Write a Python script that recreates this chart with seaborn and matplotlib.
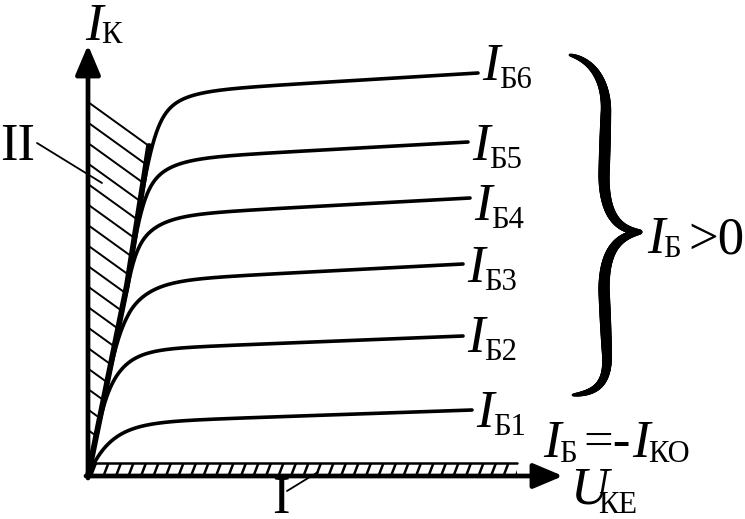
import numpy as np
import pandas as pd
import matplotlib
matplotlib.use("Agg")
import matplotlib.pyplot as plt
import seaborn as sns
from matplotlib.patches import Polygon, Rectangle
from matplotlib.collections import LineCollection

# ---------------- data ----------------
curve_names = ["Б1", "Б2", "Б3", "Б4", "Б5", "Б6"]
u_flat = 125                                  # U where the flat part is read
i_flat = [57, 130, 199, 264, 320, 387]        # I_K at U = u_flat
i_end = [66, 140, 212, 278, 334, 403]         # I_K at the right end
u_end = [384, 375, 375, 382, 380, 390]        # right end of each curve
knee_tau = [22, 18, 22, 22, 23, 24]           # knee width of each curve
label_dy = [-17, -16, -18, -22, -18, -7]      # label baseline relative to line end

sat_u = [0, 39, 61]                           # saturation boundary line
sat_i = [0, 191, 330]
hatch_top_i = 374                             # top of region II on the I axis
strip_u_end = 429                             # region I (cut-off) strip
strip_h = 13
x_arrow_tip = 475
y_arrow_tip = 431

# ---------------- style ----------------
sns.set_theme(style="white")
plt.rcParams["font.family"] = ["Liberation Serif", "DejaVu Serif"]
BIG = 38
SUB = 22

fig = plt.figure(figsize=(7.45, 5.19), dpi=100)
ax = fig.add_axes([0, 0, 1, 1])
ax.set_xlim(-88, 657)
ax.set_ylim(-43, 476)
ax.axis("off")


def envelope(u):
    u = np.asarray(u, float)
    k = (sat_i[-1] - sat_i[-2]) / (sat_u[-1] - sat_u[-2])
    return np.where(u <= sat_u[-1], np.interp(u, sat_u, sat_i),
                    sat_i[-1] + k * (u - sat_u[-1]))


rows = []
for name, f, e, ue, t in zip(curve_names, i_flat, i_end, u_end, knee_tau):
    u = np.linspace(0, ue, 600)
    b = f + (e - f) * (u - u_flat) / (ue - u_flat)
    expo = b * (1 - np.exp(-u / t))
    env = envelope(u)
    n = 10
    with np.errstate(divide="ignore", over="ignore", invalid="ignore"):
        c = (expo ** -n + env ** -n) ** (-1.0 / n)
    c = np.where(u > 0, c, 0.0)
    rows.append(pd.DataFrame({"U": u, "I": c, "curve": name}))
df = pd.concat(rows, ignore_index=True)

sns.lineplot(data=df, x="U", y="I", units="curve", estimator=None, sort=False,
             color="black", lw=2.6, legend=False, ax=ax)
sat_df = pd.DataFrame({"U": sat_u, "I": sat_i})
sns.lineplot(data=sat_df, x="U", y="I", estimator=None, sort=False,
             color="black", lw=4.2, ax=ax, solid_capstyle="round")

# ---- region II hatching ----
poly = Polygon([(0, 0)] + list(zip(sat_u, sat_i)) + [(sat_u[-1], sat_i[-1] + 3),
               (0, hatch_top_i + 2)],
               closed=True, facecolor="none", edgecolor="none")
ax.add_patch(poly)
slope = (sat_i[-1] - hatch_top_i) / sat_u[-1]
for i0 in np.arange(hatch_top_i, -30, -20.5):
    uu = np.array([-2, 80])
    ln, = ax.plot(uu, i0 + slope * uu, color="black", lw=1.4)
    ln.set_clip_path(poly)

# ---- region I strip ----
rect = Rectangle((0, 0), strip_u_end, strip_h, facecolor="none", edgecolor="none")
ax.add_patch(rect)
ax.plot([0, strip_u_end], [strip_h, strip_h], color="black", lw=1.8)
for u0 in np.arange(3, strip_u_end, 12.5):
    ln, = ax.plot([u0, u0 + 5], [0, strip_h], color="black", lw=1.8)
    ln.set_clip_path(rect)

# ---- axes with arrows ----
arrow = dict(arrowstyle="-|>,head_length=0.9,head_width=0.38", lw=3.4,
             color="black", shrinkA=0, shrinkB=0, mutation_scale=20)
ax.annotate("", xy=(x_arrow_tip, 0), xytext=(-2, 0), arrowprops=arrow)
ax.annotate("", xy=(0, y_arrow_tip), xytext=(0, -2), arrowprops=arrow)


def txt(u, i, s, size, italic=False):
    ax.text(u, i, s, fontsize=size, style="italic" if italic else "normal",
            ha="left", va="baseline", color="black")


# axis labels
txt(-3, 436, "I", BIG, True)
txt(13, 433, "К", SUB)
txt(482, -27, "U", BIG, True)
txt(510, -37, "КЕ", SUB)

# curve labels
for name, e, ue, dy in zip(curve_names, i_end, u_end, label_dy):
    txt(ue + 4, e + dy, "I", BIG, True)
    txt(ue + 21, e + dy - 8, name, SUB)

# I_Б = -I_КО
txt(455, 19, "I", BIG, True)
txt(471, 14, "Б", SUB)
txt(495, 19, "=-", BIG)
txt(544, 19, "I", BIG, True)
txt(560, 14, "КО", SUB)


# ---- brace (tapered) and I_Б > 0 ----
def P(px, py):
    return np.array([px - 88, 476 - py], float)


def bez(p0, p1, p2, p3, m=60):
    t = np.linspace(0, 1, m)[:, None]
    return ((1 - t) ** 3) * p0 + 3 * ((1 - t) ** 2) * t * p1 + 3 * (1 - t) * t ** 2 * p2 + t ** 3 * p3


def seg(p0, p1, m=40):
    t = np.linspace(0, 1, m)[:, None]
    return (1 - t) * p0 + t * p1


upper = np.vstack([
    bez(P(570, 55), P(592, 60), P(606, 80), P(606, 110)),
    seg(P(606, 110), P(604, 175)),
    bez(P(604, 175), P(604, 215), P(618, 230), P(640, 232)),
])
lower = np.vstack([
    bez(P(573, 395), P(595, 393), P(608, 385), P(607, 355)),
    seg(P(607, 355), P(604, 290)),
    bez(P(604, 290), P(604, 250), P(618, 236), P(640, 232)),
])
for pts in (upper, lower):
    d = np.r_[0, np.cumsum(np.hypot(*np.diff(pts, axis=0).T))]
    h = d / d[-1]
    w = 1.8 + 1.6 * h + 5.6 * np.sin(np.pi * h) ** 0.6
    segs = np.stack([pts[:-1], pts[1:]], axis=1)
    lc = LineCollection(segs, linewidths=(w[:-1] + w[1:]) / 2, colors="black",
                        capstyle="round", joinstyle="round")
    ax.add_collection(lc)

txt(559, 223, "I", BIG, True)
txt(575, 219, "Б", SUB)
txt(600, 223, ">0", BIG)

# region labels with leaders
txt(-88, 316, "II", BIG)
ax.plot([-51, 14], [333, 293], color="black", lw=1.3)
txt(184, -37, "I", BIG)
ax.plot([199, 230], [-15, 4], color="black", lw=1.3)

fig.savefig("out.png", dpi=100)
